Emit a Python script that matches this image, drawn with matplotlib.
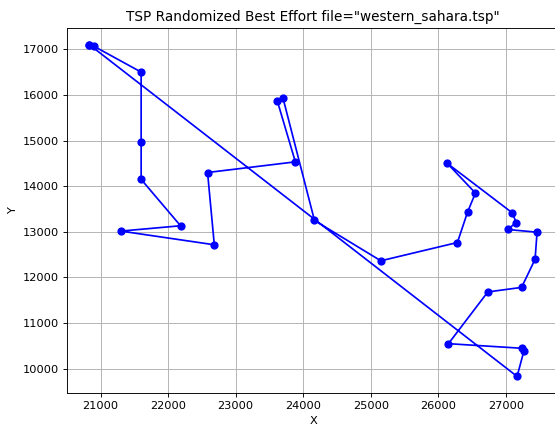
import matplotlib
matplotlib.use('Agg')
from matplotlib import pyplot as plt

# western sahara cities in tour order
x = [20833.3333, 20900.0, 21600.0, 21600.0, 21600.0, 22183.3333, 21300.0, 22683.3333,
     22583.3333, 23883.3333, 23616.6667, 23700.0, 24166.6667, 25149.1667, 26283.3333,
     26433.3333, 26550.0, 26133.3333, 27096.1111, 27153.6111, 27026.1111, 27462.5,
     27433.3333, 27233.3333, 26733.3333, 26150.0, 27233.3333, 27266.6667, 27166.6667,
     20833.3333]
y = [17100.0, 17066.6667, 16500.0, 14966.6667, 14150.0, 13133.3333, 13016.6667, 12716.6667,
     14300.0, 14533.3333, 15866.6667, 15933.3333, 13250.0, 12365.8333, 12766.6667,
     13433.3333, 13850.0, 14500.0, 13415.8333, 13203.3333, 13051.9444, 12992.2222,
     12400.0, 11783.3333, 11683.3333, 10550.0, 10450.0, 10383.3333, 9833.3333,
     17100.0]

s = 0.82  # reference looks scaled down from a bigger figure

plt.figure(figsize=(5.55, 4.26), dpi=100)
plt.plot(x, y, 'bo-', markersize=6 * s, linewidth=1.5 * s)
plt.title('TSP Randomized Best Effort file="western_sahara.tsp"', fontsize=12 * s, pad=6 * s)
plt.xlabel('X', fontsize=10 * s, labelpad=4 * s)
plt.ylabel('Y', fontsize=10 * s, labelpad=4 * s)
plt.tick_params(labelsize=10 * s, length=3.5 * s, width=0.8 * s, pad=3.5 * s)
plt.grid(linewidth=0.8 * s)
for sp in plt.gca().spines.values():
    sp.set_linewidth(0.8 * s)
# right edge of the axes is cut off in the reference
plt.subplots_adjust(left=0.1207, right=1.008, top=0.934, bottom=0.0775)
plt.savefig('out.png', dpi=100)
